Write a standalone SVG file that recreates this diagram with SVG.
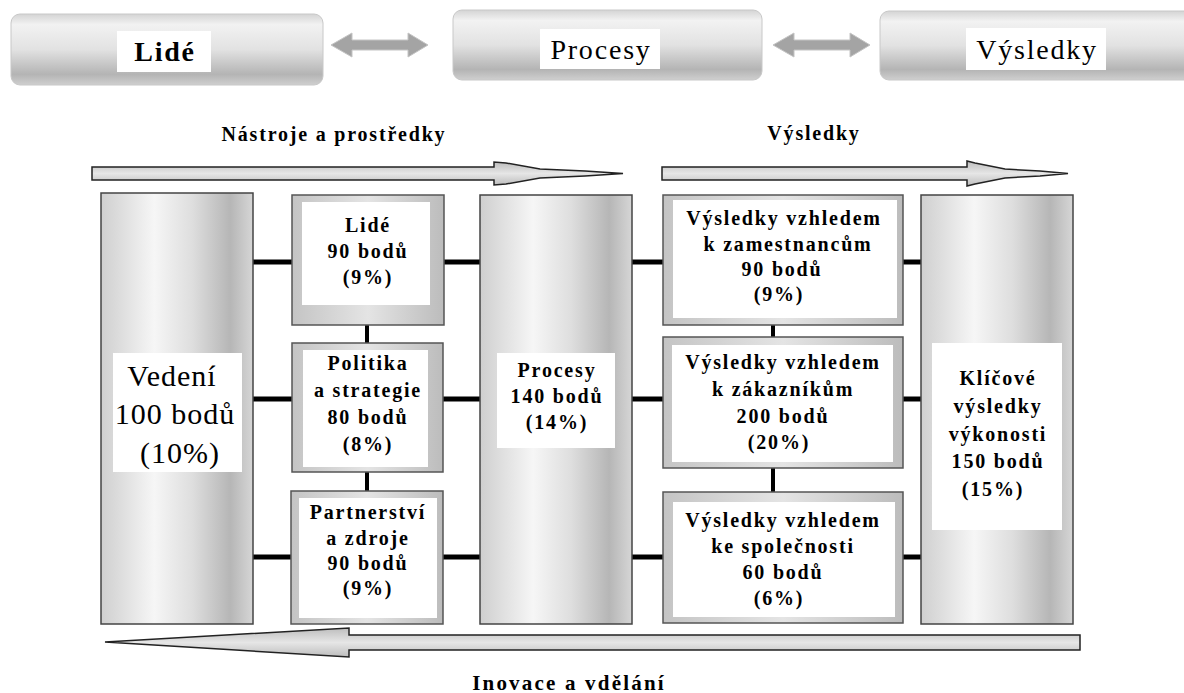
<svg xmlns="http://www.w3.org/2000/svg" width="1184" height="693" viewBox="0 0 1184 693">
<defs>
<linearGradient id="bar" x1="0" y1="0" x2="0" y2="1">
<stop offset="0" stop-color="#d4d4d4"/>
<stop offset="0.15" stop-color="#f2f2f2"/>
<stop offset="0.5" stop-color="#e2e2e2"/>
<stop offset="0.85" stop-color="#b4b4b4"/>
<stop offset="1" stop-color="#cfcfcf"/>
</linearGradient>
<linearGradient id="col" x1="0" y1="0" x2="1" y2="0">
<stop offset="0" stop-color="#cfcfcf"/>
<stop offset="0.35" stop-color="#f6f6f6"/>
<stop offset="0.6" stop-color="#dedede"/>
<stop offset="0.85" stop-color="#b6b6b6"/>
<stop offset="1" stop-color="#d6d6d6"/>
</linearGradient>
<linearGradient id="frame" x1="0" y1="0" x2="1" y2="0">
<stop offset="0" stop-color="#c4c4c4"/>
<stop offset="0.5" stop-color="#e4e4e4"/>
<stop offset="1" stop-color="#bcbcbc"/>
</linearGradient>
<linearGradient id="shaft" x1="0" y1="0" x2="0" y2="1">
<stop offset="0" stop-color="#bdbdbd"/>
<stop offset="0.5" stop-color="#e6e6e6"/>
<stop offset="1" stop-color="#bdbdbd"/>
</linearGradient>
</defs>
<style>
.bar{fill:url(#bar);stroke:#c8c8c8;stroke-width:1}
.col{fill:url(#col);stroke:#444;stroke-width:1.5}
.box{fill:url(#frame);stroke:#555;stroke-width:1.5}
.in{fill:#fff}
.dbl{fill:#a4a4a4;stroke:#c4c4c4;stroke-width:1}
.arr{fill:url(#shaft);stroke:#222;stroke-width:1.5;stroke-linejoin:miter}
.con{stroke:#000;stroke-width:5;fill:none}
.vcon{stroke:#000;stroke-width:4;fill:none}
.t{font-family:"Liberation Serif","Times New Roman",serif;font-weight:bold;font-size:20px;letter-spacing:1.8px;text-anchor:middle;fill:#000}
.big{font-family:"Liberation Serif","Times New Roman",serif;font-size:30px;letter-spacing:1px;text-anchor:middle;fill:#000}
.hd{font-family:"Liberation Serif","Times New Roman",serif;font-size:28px;letter-spacing:1.8px;text-anchor:middle;fill:#000}
</style>
<rect width="1184" height="693" fill="#fff"/>

<g id="top-lide">
<rect class="bar" x="11" y="14" width="312" height="71" rx="9"/>
<rect class="in" x="117" y="31" width="94" height="41"/>
<text class="hd" x="165" y="61" font-weight="bold">Lidé</text>
</g>
<g id="top-procesy">
<rect class="bar" x="453" y="10" width="309" height="70" rx="9"/>
<rect class="in" x="540" y="29" width="120" height="40"/>
<text class="hd" x="601" y="59">Procesy</text>
</g>
<g id="top-vysledky">
<rect class="bar" x="880" y="11" width="320" height="69" rx="9"/>
<rect class="in" x="966" y="28" width="140" height="42"/>
<text class="hd" x="1037" y="59">Výsledky</text>
</g>

<g id="connectors">
<polygon class="dbl" points="331,45 352,33 352,40 408,40 408,33 428,45 408,57 408,50 352,50 352,57"/>
<polygon class="dbl" points="773,45 794,33 794,40 850,40 850,33 870,45 850,57 850,50 794,50 794,57"/>
<polygon class="arr" points="92,167 494,167 494,162 506,163 540,169 585,171 623,173.5 585,176 540,178 506,184 494,185 494,180 92,180"/>
<polygon class="arr" points="662,167 967,167 967,161 975,163 1005,169 1040,171 1068,173.5 1040,176 1005,178 975,184 967,186 967,180 662,180"/>
<polygon class="arr" points="1080,635 349,635 349,628 105,642 349,657 349,650 1080,650"/>
<line class="con" x1="253" y1="262" x2="292" y2="262"/>
<line class="con" x1="253" y1="399" x2="292" y2="399"/>
<line class="con" x1="253" y1="557" x2="291" y2="557"/>
<line class="con" x1="444" y1="262" x2="480" y2="262"/>
<line class="con" x1="443" y1="399" x2="480" y2="399"/>
<line class="con" x1="443" y1="557" x2="480" y2="557"/>
<line class="con" x1="632" y1="262" x2="663" y2="262"/>
<line class="con" x1="632" y1="399" x2="663" y2="399"/>
<line class="con" x1="632" y1="557" x2="663" y2="557"/>
<line class="con" x1="903" y1="262" x2="921" y2="262"/>
<line class="con" x1="903" y1="399" x2="921" y2="399"/>
<line class="con" x1="903" y1="557" x2="921" y2="557"/>
<line class="vcon" x1="367" y1="325" x2="367" y2="343"/>
<line class="vcon" x1="367" y1="472" x2="367" y2="491"/>
<line class="vcon" x1="773" y1="325" x2="773" y2="337"/>
<line class="vcon" x1="773" y1="468" x2="773" y2="492"/>
</g>

<g id="label-nastroje"><text class="t" x="334" y="141">Nástroje a prostředky</text></g>
<g id="label-vysledky"><text class="t" x="814" y="140">Výsledky</text></g>
<g id="label-inovace"><text class="t" x="569" y="690" style="font-size:21px;letter-spacing:2.2px">Inovace a vdělání</text></g>

<g id="vedeni">
<rect class="col" x="101" y="193" width="152" height="431"/>
<rect class="in" x="113" y="353" width="129" height="119"/>
<text class="big" x="172" y="386">Vedení</text>
<text class="big" x="175" y="424">100 bodů</text>
<text class="big" x="180" y="463">(10%)</text>
</g>

<g id="lide">
<rect class="box" x="292" y="195" width="152" height="130"/>
<rect class="in" x="302" y="202" width="128" height="103"/>
<text class="t" x="368" y="232">Lidé</text>
<text class="t" x="368" y="258">90 bodů</text>
<text class="t" x="368" y="284">(9%)</text>
</g>

<g id="politika">
<rect class="box" x="292" y="343" width="151" height="129"/>
<rect class="in" x="303" y="350" width="125" height="117"/>
<text class="t" x="368" y="370">Politika</text>
<text class="t" x="368" y="397">a strategie</text>
<text class="t" x="368" y="424">80 bodů</text>
<text class="t" x="368" y="451">(8%)</text>
</g>

<g id="partnerstvi">
<rect class="box" x="291" y="491" width="152" height="133"/>
<rect class="in" x="299" y="498" width="138" height="120"/>
<text class="t" x="368" y="519">Partnerství</text>
<text class="t" x="368" y="545">a zdroje</text>
<text class="t" x="368" y="570">90 bodů</text>
<text class="t" x="368" y="595">(9%)</text>
</g>

<g id="procesy">
<rect class="col" x="480" y="195" width="152" height="429"/>
<rect class="in" x="497" y="353" width="118" height="95"/>
<text class="t" x="557" y="377">Procesy</text>
<text class="t" x="557" y="403">140 bodů</text>
<text class="t" x="557" y="429">(14%)</text>
</g>

<g id="vysl-zamestnanci">
<rect class="box" x="663" y="195" width="240" height="130"/>
<rect class="in" x="673" y="200" width="224" height="118"/>
<text class="t" x="784" y="225">Výsledky vzhledem</text>
<text class="t" x="788" y="251">k zamestnancům</text>
<text class="t" x="782" y="276">90 bodů</text>
<text class="t" x="779" y="301">(9%)</text>
</g>

<g id="vysl-zakaznici">
<rect class="box" x="663" y="337" width="240" height="131"/>
<rect class="in" x="672" y="345" width="221" height="117"/>
<text class="t" x="783" y="369">Výsledky vzhledem</text>
<text class="t" x="783" y="396">k zákazníkům</text>
<text class="t" x="783" y="423">200 bodů</text>
<text class="t" x="779" y="449">(20%)</text>
</g>

<g id="vysl-spolecnost">
<rect class="box" x="663" y="492" width="240" height="131"/>
<rect class="in" x="673" y="502" width="222" height="115"/>
<text class="t" x="783" y="527">Výsledky vzhledem</text>
<text class="t" x="783" y="553">ke společnosti</text>
<text class="t" x="783" y="579">60 bodů</text>
<text class="t" x="779" y="605">(6%)</text>
</g>

<g id="klicove">
<rect class="col" x="921" y="195" width="152" height="429"/>
<rect class="in" x="932" y="343" width="130" height="187"/>
<text class="t" x="998" y="385">Klíčové</text>
<text class="t" x="998" y="413">výsledky</text>
<text class="t" x="998" y="441">výkonosti</text>
<text class="t" x="998" y="468">150 bodů</text>
<text class="t" x="993" y="496">(15%)</text>
</g>
</svg>
